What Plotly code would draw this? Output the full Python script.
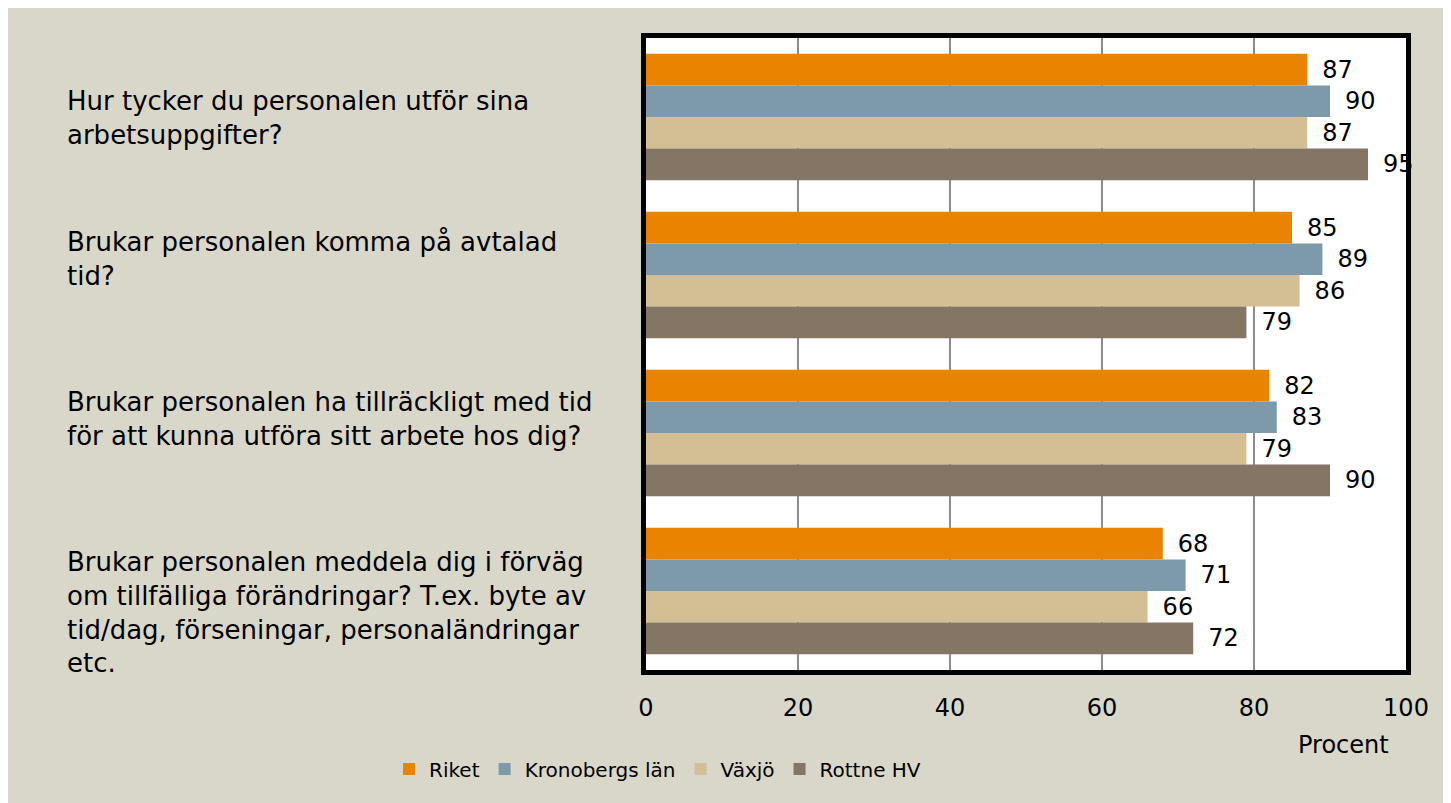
import plotly.graph_objects as go

categories = [
    "Hur tycker du personalen utför sina<br>arbetsuppgifter?",
    "Brukar personalen komma på avtalad<br>tid?",
    "Brukar personalen ha tillräckligt med tid<br>för att kunna utföra sitt arbete hos dig?",
    "Brukar personalen meddela dig i förväg<br>om tillfälliga förändringar? T.ex. byte av<br>tid/dag, förseningar, personaländringar<br>etc.",
]
series_names = ["Riket", "Kronobergs län", "Växjö", "Rottne HV"]
riket = [87, 85, 82, 68]
kronoberg = [90, 89, 83, 71]
vaxjo = [87, 86, 79, 66]
rottne = [95, 79, 90, 72]
x_ticks = [0, 20, 40, 60, 80, 100]

series_values = [riket, kronoberg, vaxjo, rottne]
colors = ["#E98300", "#7D9AAB", "#D4BF95", "#857565"]

W, H = 1451, 803
OFF = 8  # page body margin
ML, MT = 638, 30
MR, MB = W - 1398, H - 662
PW, PH = W - ML - MR, H - MT - MB

def px_x(sx):
    return (sx - OFF - ML) / PW

def px_y(sy):
    return (H - MB - (sy - OFF)) / PH

FONT = "DejaVu Sans"
fig = go.Figure()
for name, vals, col in zip(series_names, series_values, colors):
    fig.add_trace(go.Bar(
        y=categories, x=vals, name=name, orientation="h",
        marker=dict(color=col, line=dict(width=0)),
        text=vals, texttemplate="\u2002%{x}", textposition="outside",
        textfont=dict(family=FONT, size=24, color="black"),
        cliponaxis=False, constraintext="none",
    ))

label_yshift = [-1, 16, 14, -21]
for cat, ys in zip(categories, label_yshift):
    fig.add_annotation(
        x=px_x(65), xref="paper", y=cat, yref="y", yshift=ys,
        text=cat, showarrow=False, xanchor="left", yanchor="middle", align="left",
        font=dict(family=FONT, size=26, color="black"),
    )

fig.add_annotation(x=px_x(1343), xref="paper", y=px_y(745), yref="paper",
                   text="Procent", showarrow=False, xanchor="center", yanchor="middle",
                   font=dict(family=FONT, size=24, color="black"))

fig.update_layout(
    width=W, height=H,
    margin=dict(l=ML, r=MR, t=MT, b=MB, autoexpand=False),
    paper_bgcolor="#D9D7CA", plot_bgcolor="white",
    barmode="group", bargap=0.2, bargroupgap=0,
    font=dict(family=FONT, size=21, color="black"),
    showlegend=True,
    legend=dict(orientation="h", x=px_x(389), y=px_y(769), xanchor="left", yanchor="middle",
                font=dict(family=FONT, size=20, color="black"), bgcolor="rgba(0,0,0,0)",
                traceorder="normal"),
    xaxis=dict(range=[0, 100], tickvals=x_ticks, showgrid=True, gridcolor="#8C8C8C", gridwidth=1.5,
               zeroline=False, showline=True, linecolor="black", linewidth=5, mirror=True,
               ticks="outside", ticklen=12, tickcolor="rgba(0,0,0,0)",
               tickfont=dict(family=FONT, size=24, color="black")),
    yaxis=dict(type="category", autorange="reversed", showticklabels=False, showgrid=False,
               zeroline=False, showline=True, linecolor="black", linewidth=5, mirror=True),
)

fig.write_html("out.html")
